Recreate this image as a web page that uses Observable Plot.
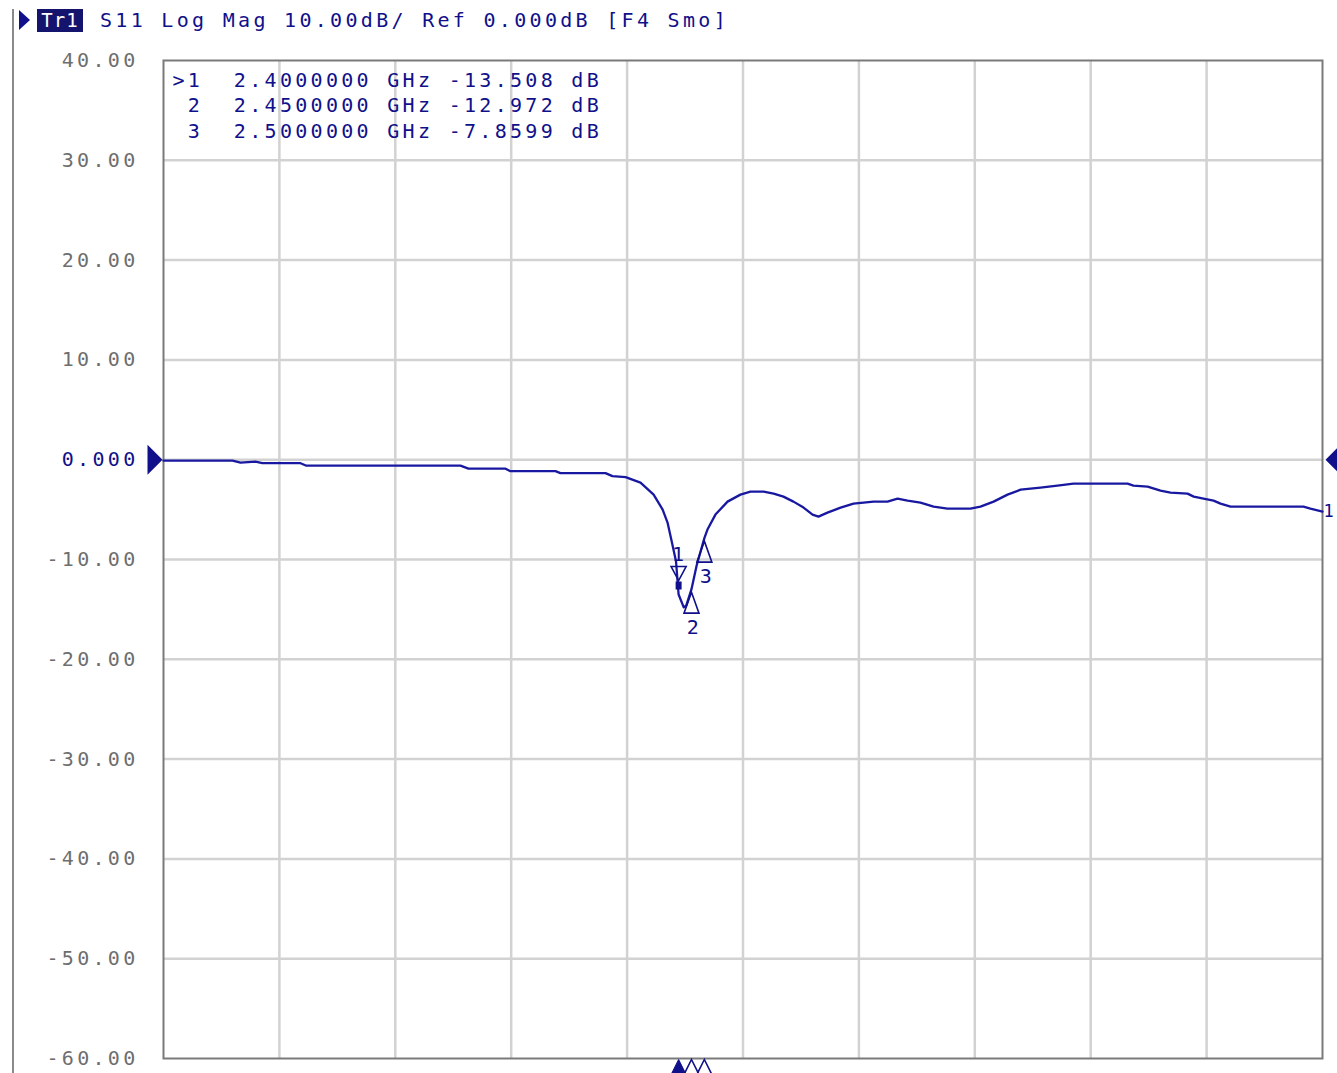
<!DOCTYPE html>
<html>
<head>
<meta charset="utf-8">
<script src="https://cdn.jsdelivr.net/npm/d3@7"></script>
<script src="https://cdn.jsdelivr.net/npm/@observablehq/plot@0.6"></script>
<style>
  body { margin: 0; background: #fff; }
  #wrap { position: relative; width: 1337px; height: 1073px; overflow: hidden; font-family: "DejaVu Sans Mono", monospace; }
  #vline { position: absolute; left: 12px; top: 9px; width: 2px; height: 1064px; background: #8a8a8a; }
  #tri { position: absolute; left: 19px; top: 10px; width: 0; height: 0; border-left: 11px solid #10108a; border-top: 10px solid transparent; border-bottom: 10px solid transparent; }
  #tr1 { position: absolute; left: 37px; top: 9px; width: 46px; height: 23px; background: #14146e; color: #fff; font-size: 19px; line-height: 23px; text-align: center; letter-spacing: 1px; }
  #hdr { position: absolute; left: 100px; top: 9px; height: 23px; line-height: 23px; font-size: 20px; letter-spacing: 3.3px; color: #10108a; white-space: pre; }
  #chart { position: absolute; left: 0; top: 40px; }
  #chart svg text { white-space: pre; letter-spacing: 3.3px; }
  #chart svg g[aria-label="trace-number"] text { letter-spacing: 0px; }
</style>
</head>
<body>
<div id="wrap">
  <div id="vline"></div>
  <div id="tri"></div>
  <div id="tr1">Tr1</div>
  <div id="hdr">S11 Log Mag 10.00dB/ Ref 0.000dB [F4 Smo]</div>
  <div id="chart"></div>
</div>
<script>
// ---- data ----
const freqGHz = [
  0.400, 0.668, 0.699, 0.757, 0.784, 0.932, 0.955, 1.553, 1.584, 1.728,
  1.747, 1.922, 1.941, 2.116, 2.143, 2.194, 2.252, 2.303, 2.338, 2.357,
  2.369, 2.380, 2.390, 2.400, 2.420, 2.430, 2.450, 2.470, 2.500, 2.512,
  2.543, 2.590, 2.640, 2.679, 2.730, 2.769, 2.807, 2.846, 2.885, 2.920,
  2.943, 2.978, 3.029, 3.079, 3.157, 3.211, 3.250, 3.289, 3.339, 3.390,
  3.444, 3.533, 3.572, 3.623, 3.677, 3.728, 3.805, 3.871, 3.933, 4.143,
  4.166, 4.221, 4.271, 4.310, 4.376, 4.400, 4.438, 4.477, 4.504, 4.543,
  4.826, 4.853, 4.900
];
const s11dB = [
  -0.10, -0.10, -0.30, -0.20, -0.35, -0.35, -0.60, -0.60, -0.90, -0.90,
  -1.15, -1.15, -1.35, -1.35, -1.65, -1.75, -2.30, -3.50, -5.00, -6.30,
  -7.70, -9.00, -10.2, -13.508, -14.8, -14.6, -12.972, -10.6, -7.8599, -7.00,
  -5.50, -4.20, -3.50, -3.20, -3.20, -3.40, -3.70, -4.20, -4.80, -5.50,
  -5.70, -5.30, -4.80, -4.40, -4.20, -4.20, -3.90, -4.10, -4.30, -4.70,
  -4.90, -4.90, -4.70, -4.20, -3.50, -3.00, -2.80, -2.60, -2.40, -2.40,
  -2.60, -2.70, -3.10, -3.30, -3.40, -3.70, -3.90, -4.10, -4.40, -4.70,
  -4.70, -4.90, -5.20
];
const markerIds = [1, 2, 3];
const markerFreqGHz = [2.40, 2.45, 2.50];
const markerdB = [-13.508, -12.972, -7.8599];
const yTicks = [40, 30, 20, 10, 0, -10, -20, -30, -40, -50, -60];
const xGridGHz = [0.4, 0.85, 1.3, 1.75, 2.2, 2.65, 3.1, 3.55, 4.0, 4.45, 4.9];
const traceNumber = "1";

// ---- build ----
const NAVY = "#10108a";
const TRACE = "#1818a0";
const FONT = "DejaVu Sans Mono";
const trace = freqGHz.map((f, i) => ({f, db: s11dB[i]}));
const markers = markerIds.map((id, i) => ({id, f: markerFreqGHz[i], db: markerdB[i]}));
const tableLine = (m, i) =>
  `${i === 0 ? ">" : " "}${m.id}  ${m.f.toFixed(7)} GHz ${m.db.toPrecision(5)} dB`;

const triDownActive = {draw(c) { c.moveTo(-7.5, -28); c.lineTo(7.5, -28); c.lineTo(0, -14); c.closePath(); }};
const squareActive = {draw(c) { c.rect(-3, -13, 6, 8); }};
const triUp = {draw(c) { c.moveTo(0, 3); c.lineTo(7.5, 24); c.lineTo(-7.5, 24); c.closePath(); }};
const bottomTri = {draw(c) { c.moveTo(0, 1); c.lineTo(12, 25); c.lineTo(-12, 25); c.closePath(); }};
const leftRef = {draw(c) { c.moveTo(-1, 0); c.lineTo(-16, -15); c.lineTo(-16, 15); c.closePath(); }};
const rightRef = {draw(c) { c.moveTo(3, 0); c.lineTo(16, -13); c.lineTo(16, 13); c.closePath(); }};

const plot = Plot.plot({
  width: 1337,
  height: 1033,
  marginTop: 20,
  marginBottom: 15,
  marginLeft: 163,
  marginRight: 15,
  x: {domain: [0.4, 4.9], axis: null},
  y: {domain: [-60, 40], axis: null},
  marks: [
    Plot.ruleX(xGridGHz.slice(1, -1), {stroke: "#d2d2d2", strokeWidth: 2.5}),
    Plot.ruleY(yTicks.slice(1, -1), {stroke: "#d2d2d2", strokeWidth: 2.5}),
    Plot.frame({stroke: "#7a7a7a", strokeWidth: 2}),
    Plot.text(yTicks.filter(d => d !== 0), {
      y: d => d, text: d => d.toFixed(2), frameAnchor: "left", textAnchor: "end",
      dx: -25, fill: "#6e6e6e", fontSize: 20, fontFamily: FONT
    }),
    Plot.text(yTicks.filter(d => d === 0), {
      y: d => d, text: d => d.toFixed(3), frameAnchor: "left", textAnchor: "end",
      dx: -25, fill: NAVY, fontSize: 20, fontFamily: FONT
    }),
    Plot.dot([0], {y: d => d, frameAnchor: "left", symbol: leftRef, fill: NAVY, stroke: "none"}),
    Plot.dot([0], {y: d => d, frameAnchor: "right", symbol: rightRef, fill: NAVY, stroke: "none"}),
    ...markers.map((m, i) => Plot.text([m], {
      frameAnchor: "top-left", text: d => tableLine(d, i), textAnchor: "start",
      dx: 9, dy: 12 + i * 25.5, fill: NAVY, fontSize: 20, fontFamily: FONT
    })),
    Plot.line(trace, {x: "f", y: "db", stroke: TRACE, strokeWidth: 2.3}),
    Plot.text([trace[trace.length - 1]], {x: "f", y: "db", text: () => traceNumber, dx: 1, textAnchor: "start", fill: NAVY, fontSize: 17, fontFamily: FONT, ariaLabel: "trace-number"}),
    // marker 1 (active)
    Plot.dot(markers.slice(0, 1), {x: "f", y: "db", symbol: triDownActive, fill: "none", stroke: NAVY, strokeWidth: 1.6}),
    Plot.dot(markers.slice(0, 1), {x: "f", y: "db", symbol: squareActive, fill: NAVY, stroke: "none"}),
    Plot.text(markers.slice(0, 1), {x: "f", y: "db", text: "id", dy: -40, dx: 1, fill: NAVY, fontSize: 20, fontFamily: FONT}),
    // markers 2, 3
    Plot.dot(markers.slice(1), {x: "f", y: "db", symbol: triUp, fill: "none", stroke: NAVY, strokeWidth: 1.6}),
    Plot.text(markers.slice(1), {x: "f", y: "db", text: "id", dy: 38, dx: 3, fill: NAVY, fontSize: 20, fontFamily: FONT}),
    // bottom position indicators
    Plot.dot(markers.slice(0, 1), {x: "f", frameAnchor: "bottom", symbol: bottomTri, fill: NAVY, stroke: NAVY, strokeWidth: 1}),
    Plot.dot(markers.slice(1), {x: "f", frameAnchor: "bottom", symbol: bottomTri, fill: "none", stroke: NAVY, strokeWidth: 1.6})
  ]
});
document.getElementById("chart").appendChild(plot);
</script>
</body>
</html>
